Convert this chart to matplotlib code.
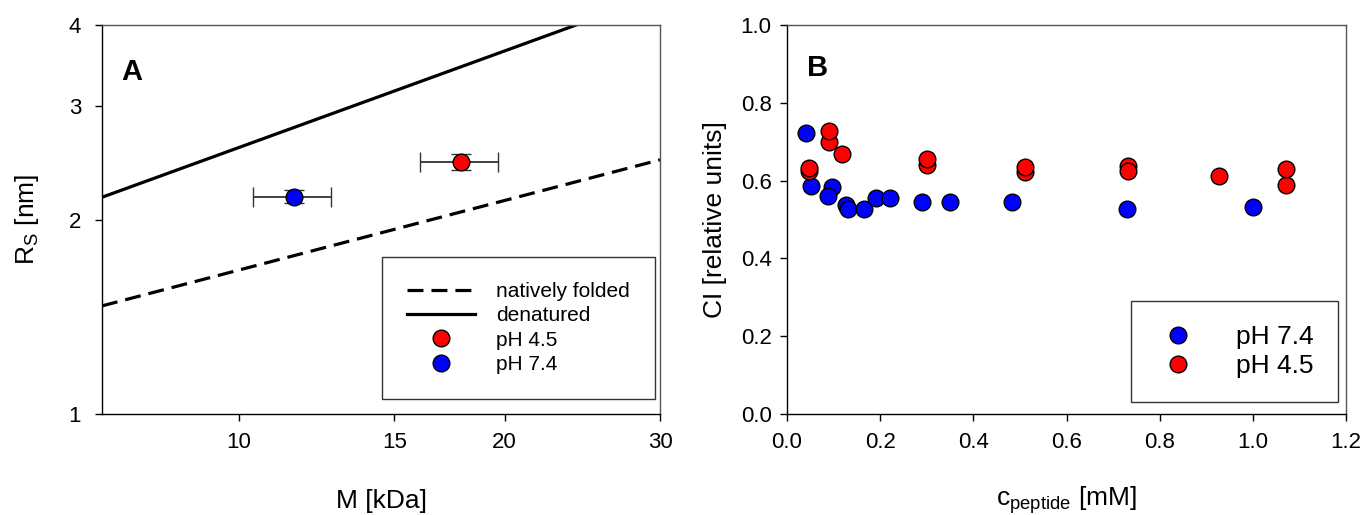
import matplotlib
matplotlib.use('Agg')
import matplotlib.pyplot as plt
from matplotlib.ticker import FixedLocator, FixedFormatter, NullLocator

plt.rcParams['font.family'] = ['Liberation Sans', 'DejaVu Sans']

# Panel A data
folded_M = [7.0, 30.0]
folded_Rs = [1.47, 2.474]
denatured_M = [7.0, 24.1]
denatured_Rs = [2.165, 4.0]

ph45_M = [17.84]
ph45_Rs = [2.454]
ph45_Merr = [1.8]
ph45_Rserr = [0.07]

ph74_M = [11.56]
ph74_Rs = [2.17]
ph74_Merr = [1.17]
ph74_Rserr = [0.05]

# Panel B data
c74 = [0.041, 0.051, 0.0975, 0.087, 0.127, 0.130, 0.1655, 0.191, 0.221,
       0.290, 0.350, 0.483, 0.729, 1.000]
ci74 = [0.723, 0.585, 0.583, 0.561, 0.538, 0.528, 0.527, 0.554, 0.556,
        0.544, 0.546, 0.544, 0.527, 0.532]
c45 = [0.048, 0.048, 0.090, 0.090, 0.119, 0.300, 0.300, 0.511, 0.511,
       0.731, 0.731, 0.927, 1.072, 1.072]
ci45 = [0.625, 0.633, 0.698, 0.728, 0.669, 0.641, 0.655, 0.621, 0.636,
        0.637, 0.625, 0.613, 0.589, 0.630]

fig = plt.figure(figsize=(13.65, 5.15), dpi=100)
axA = fig.add_axes([102 / 1365, 1 - 414 / 515, 558 / 1365, 389 / 515])
axB = fig.add_axes([787 / 1365, 1 - 414 / 515, 559 / 1365, 389 / 515])

ms = 12
tick_fs = 16
label_fs = 19

# ---- Panel A
axA.set_xscale('log')
axA.set_yscale('log')
axA.plot(folded_M, folded_Rs, color='black', lw=2.3, linestyle=(0, (5, 2.5)),
         label='natively folded')
axA.plot(denatured_M, denatured_Rs, color='black', lw=2.3, label='denatured')
axA.errorbar(ph45_M, ph45_Rs, xerr=ph45_Merr, yerr=ph45_Rserr, fmt='o',
             color='red', mec='black', mew=1, ms=ms, ecolor='#333333',
             elinewidth=1.3, capsize=7, capthick=1.3, label='pH 4.5', zorder=3)
axA.errorbar(ph74_M, ph74_Rs, xerr=ph74_Merr, yerr=ph74_Rserr, fmt='o',
             color='blue', mec='black', mew=1, ms=ms, ecolor='#333333',
             elinewidth=1.3, capsize=7, capthick=1.3, label='pH 7.4', zorder=3)
axA.set_xlim(7, 30)
axA.set_ylim(1, 4)
axA.xaxis.set_major_locator(FixedLocator([10, 15, 20, 30]))
axA.xaxis.set_major_formatter(FixedFormatter(['10', '15', '20', '30']))
axA.xaxis.set_minor_locator(NullLocator())
axA.yaxis.set_major_locator(FixedLocator([1, 2, 3, 4]))
axA.yaxis.set_major_formatter(FixedFormatter(['1', '2', '3', '4']))
axA.yaxis.set_minor_locator(NullLocator())
axA.set_xlabel('M [kDa]', fontsize=label_fs, labelpad=26)
axA.set_ylabel('R$_\\mathregular{S}$ [nm]', fontsize=label_fs, labelpad=20)
axA.text(0.035, 0.88, 'A', transform=axA.transAxes, fontsize=21,
         fontweight='bold', va='center')
# legend handles without error bars
hA = axA.get_lines()[:2]
pA45 = axA.plot([], [], 'o', color='red', mec='black', mew=1, ms=ms)[0]
pA74 = axA.plot([], [], 'o', color='blue', mec='black', mew=1, ms=ms)[0]
legA = axA.legend(hA + [pA45, pA74],
                  ['natively folded', 'denatured', 'pH 4.5', 'pH 7.4'],
                  loc='lower right', bbox_to_anchor=(0.991, 0.039),
                  borderaxespad=0, fontsize=15, frameon=True, fancybox=False,
                  edgecolor='black', handlelength=3.3, borderpad=1.2,
                  labelspacing=0.25, handletextpad=1.0)
legA.get_frame().set_linewidth(1.0)

# ---- Panel B
axB.plot(c74, ci74, 'o', color='blue', mec='black', mew=1, ms=ms,
         label='pH 7.4', zorder=3)
axB.plot(c45, ci45, 'o', color='red', mec='black', mew=1, ms=ms,
         label='pH 4.5', zorder=3)
axB.set_xlim(0, 1.2)
axB.set_ylim(0, 1.0)
axB.set_xticks([0.0, 0.2, 0.4, 0.6, 0.8, 1.0, 1.2])
axB.set_yticks([0.0, 0.2, 0.4, 0.6, 0.8, 1.0])
axB.xaxis.set_major_formatter(FixedFormatter(['0.0', '0.2', '0.4', '0.6', '0.8', '1.0', '1.2']))
axB.yaxis.set_major_formatter(FixedFormatter(['0.0', '0.2', '0.4', '0.6', '0.8', '1.0']))
axB.set_xlabel('c$_\\mathregular{peptide}$ [mM]', fontsize=label_fs, labelpad=22)
axB.set_ylabel('CI [relative units]', fontsize=label_fs, labelpad=10)
axB.text(0.035, 0.89, 'B', transform=axB.transAxes, fontsize=21,
         fontweight='bold', va='center')
legB = axB.legend(loc='lower right', bbox_to_anchor=(0.985, 0.031),
                  borderaxespad=0, fontsize=19, frameon=True, fancybox=False,
                  edgecolor='black', borderpad=0.9, labelspacing=0.2,
                  handletextpad=1.3, handlelength=1.8)
legB.get_frame().set_linewidth(1.0)

for ax in (axA, axB):
    ax.tick_params(direction='out', length=5, width=1, labelsize=tick_fs, pad=8)
    for s in ax.spines.values():
        s.set_linewidth(1.0)
    ax.spines['top'].set_color('#555555')
    ax.spines['right'].set_color('#555555')
axA.tick_params(axis='y', pad=10)
axB.tick_params(axis='y', pad=6)

fig.savefig('out.png', dpi=100)
